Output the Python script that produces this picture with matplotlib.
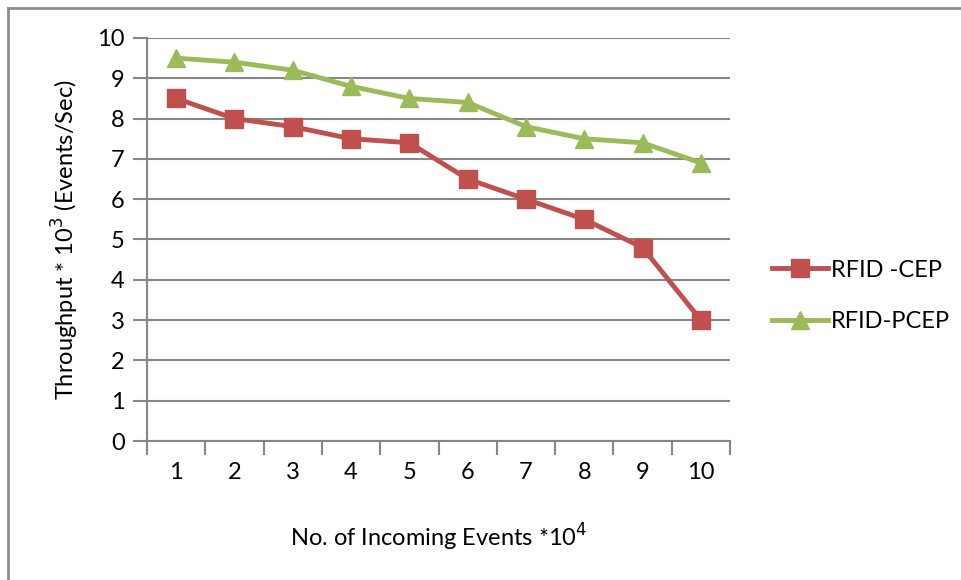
from matplotlib import pyplot as plt
from matplotlib.lines import Line2D
import numpy as np

plt.rcParams['font.family'] = ['Lato', 'DejaVu Sans']

events = [1, 2, 3, 4, 5, 6, 7, 8, 9, 10]
rfid_cep = [8.5, 8.0, 7.8, 7.5, 7.4, 6.5, 6.0, 5.5, 4.8, 3.0]
rfid_pcep = [9.5, 9.4, 9.2, 8.8, 8.5, 8.4, 7.8, 7.5, 7.4, 6.9]

grid_c = '#868686'
fig = plt.figure(figsize=(9.61, 5.80), dpi=100)
ax = fig.add_axes([147 / 961, 139 / 580, 583 / 961, 403 / 580])

x = np.arange(len(events))
ax.plot(x, rfid_cep, color='#C0504D', linewidth=3.5, marker='s', markersize=13,
        label='RFID -CEP')
ax.plot(x, rfid_pcep, color='#9BBB59', linewidth=3.5, marker='^', markersize=13,
        label='RFID-PCEP')

ax.set_xlim(-0.5, len(events) - 0.5)
ax.set_ylim(0, 10)
ax.set_yticks(range(0, 11))
ax.set_xticks(x)
ax.set_xticklabels([str(e) for e in events])
ax.set_xticks(np.arange(-0.5, len(events), 1), minor=True)
ax.tick_params(axis='x', which='major', length=0, pad=15, labelsize=17)
ax.tick_params(axis='x', which='minor', length=10, width=1.5, color=grid_c)
ax.tick_params(axis='y', length=10, width=1.5, color=grid_c, labelsize=17, pad=6)
ax.yaxis.grid(True, color=grid_c, linewidth=1.5)
ax.set_axisbelow(True)
for s in ['top', 'right']:
    ax.spines[s].set_visible(False)
for s in ['left', 'bottom']:
    ax.spines[s].set_color(grid_c)
    ax.spines[s].set_linewidth(1.5)

ax.set_xlabel('No. of Incoming Events *10$^4$', fontsize=17, labelpad=28)
ax.set_ylabel('Throughput * 10$^3$ (Events/Sec)', fontsize=17, labelpad=12)

ax.legend(loc='center left', bbox_to_anchor=(1.055, 0.36), frameon=False,
          fontsize=17, handlelength=2.4, labelspacing=1.3, handletextpad=0.1,
          borderaxespad=0)

fig.add_artist(Line2D([8 / 961, 1], [1 - 8 / 580, 1 - 8 / 580], color='#8c8c8c', linewidth=2))
fig.add_artist(Line2D([8 / 961, 8 / 961], [0, 1 - 8 / 580], color='#8c8c8c', linewidth=2))

fig.savefig('out.png')
